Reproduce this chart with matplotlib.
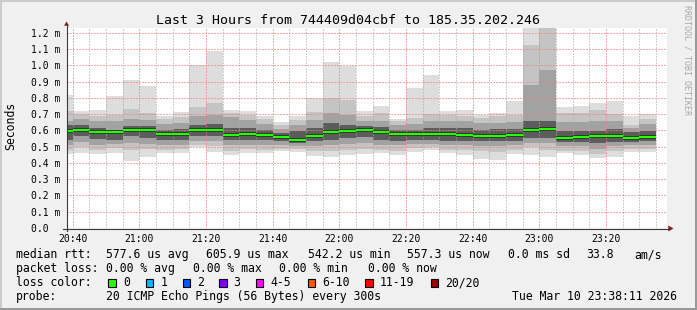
import matplotlib
matplotlib.use('Agg')
import matplotlib.pyplot as plt
import matplotlib.patches as mpatches
from matplotlib.lines import Line2D
from matplotlib.ticker import MultipleLocator, FuncFormatter
import numpy as np

plt.rcParams['font.family'] = 'DejaVu Sans Mono'

W, H = 697, 310

# 5 minute slots, labelled by their end time
slot_end = ['20:40', '20:45', '20:50', '20:55', '21:00', '21:05', '21:10', '21:15', '21:20',
            '21:25', '21:30', '21:35', '21:40', '21:45', '21:50', '21:55', '22:00', '22:05',
            '22:10', '22:15', '22:20', '22:25', '22:30', '22:35', '22:40', '22:45', '22:50',
            '22:55', '23:00', '23:05', '23:10', '23:15', '23:20', '23:25', '23:30', '23:35']

# rtt spread per slot in ms, outer bands -> inner bands
rtt_max = [0.819, 0.716, 0.727, 0.813, 0.911, 0.874, 0.690, 0.714, 0.999, 1.085, 0.727, 0.720,
           0.690, 0.653, 0.688, 0.796, 1.023, 0.993, 0.720, 0.751, 0.671, 0.862, 0.942, 0.720,
           0.727, 0.696, 0.708, 0.782, 1.330, 1.520, 0.743, 0.751, 0.770, 0.782, 0.690, 0.702]
rtt_hi1 = [0.720, 0.700, 0.686, 0.692, 0.733, 0.706, 0.671, 0.680, 0.741, 0.767, 0.706, 0.696,
           0.669, 0.635, 0.665, 0.712, 0.798, 0.788, 0.686, 0.706, 0.655, 0.676, 0.700, 0.692,
           0.686, 0.676, 0.686, 0.692, 1.126, 1.260, 0.706, 0.706, 0.727, 0.700, 0.635, 0.671]
rtt_hi2 = [0.659, 0.671, 0.655, 0.655, 0.671, 0.665, 0.641, 0.645, 0.686, 0.692, 0.680, 0.665,
           0.639, 0.610, 0.635, 0.665, 0.706, 0.696, 0.655, 0.659, 0.635, 0.641, 0.655, 0.655,
           0.655, 0.645, 0.645, 0.651, 0.880, 0.972, 0.651, 0.651, 0.655, 0.655, 0.614, 0.639]
rtt_hi3 = [0.630, 0.635, 0.614, 0.604, 0.624, 0.624, 0.604, 0.610, 0.635, 0.639, 0.614, 0.614,
           0.604, 0.583, 0.593, 0.614, 0.645, 0.635, 0.624, 0.618, 0.604, 0.604, 0.614, 0.614,
           0.614, 0.604, 0.610, 0.610, 0.655, 0.660, 0.597, 0.597, 0.597, 0.610, 0.589, 0.598]
rtt_median = [0.598, 0.604, 0.587, 0.587, 0.600, 0.600, 0.579, 0.577, 0.602, 0.602, 0.573, 0.577,
              0.571, 0.559, 0.542, 0.567, 0.587, 0.598, 0.600, 0.590, 0.579, 0.575, 0.577, 0.577,
              0.569, 0.565, 0.565, 0.573, 0.604, 0.606, 0.553, 0.561, 0.563, 0.563, 0.553, 0.557]
rtt_lo3 = [0.540, 0.563, 0.548, 0.542, 0.563, 0.553, 0.542, 0.542, 0.567, 0.567, 0.542, 0.542,
           0.542, 0.532, 0.522, 0.536, 0.542, 0.553, 0.557, 0.542, 0.536, 0.542, 0.542, 0.536,
           0.532, 0.532, 0.532, 0.536, 0.553, 0.553, 0.528, 0.528, 0.522, 0.528, 0.528, 0.532]
rtt_lo2 = [0.510, 0.528, 0.512, 0.518, 0.522, 0.516, 0.507, 0.512, 0.532, 0.532, 0.507, 0.512,
           0.512, 0.507, 0.501, 0.501, 0.507, 0.516, 0.522, 0.512, 0.507, 0.516, 0.516, 0.507,
           0.507, 0.501, 0.501, 0.512, 0.522, 0.522, 0.501, 0.501, 0.487, 0.501, 0.507, 0.507]
rtt_lo1 = [0.481, 0.495, 0.481, 0.491, 0.481, 0.487, 0.481, 0.487, 0.507, 0.501, 0.475, 0.487,
           0.481, 0.487, 0.487, 0.471, 0.471, 0.481, 0.487, 0.481, 0.475, 0.491, 0.495, 0.481,
           0.481, 0.471, 0.467, 0.481, 0.495, 0.481, 0.475, 0.471, 0.454, 0.471, 0.487, 0.487]
rtt_min = [0.455, 0.462, 0.452, 0.462, 0.409, 0.434, 0.458, 0.458, 0.495, 0.469, 0.446, 0.462,
           0.458, 0.475, 0.465, 0.442, 0.434, 0.446, 0.455, 0.458, 0.446, 0.469, 0.481, 0.458,
           0.450, 0.426, 0.415, 0.452, 0.450, 0.436, 0.458, 0.450, 0.430, 0.436, 0.465, 0.467]

smoke_colors = ['#dddddd', '#c4c4c4', '#a2a2a2', '#5c5c5c']

loss_labels = ['0', '1', '2', '3', '4-5', '6-10', '11-19', '20/20']
loss_colors = ['#26ff00', '#00b8ff', '#0059ff', '#7e00ff', '#ff00ff', '#ff5500', '#ff0000', '#a10000']
loss_box_x = [108.3, 145.7, 182.7, 219.0, 255.7, 307.7, 365.0, 430.7]


def fx(px):
    return px / W


def fy(py):
    return 1 - py / H


fig = plt.figure(figsize=(W / 100, H / 100), dpi=100)
fig.patch.set_facecolor('#f0f0f0')

# frame shading
fig.add_artist(mpatches.Rectangle((0, fy(2)), 1, 2 / H, transform=fig.transFigure, color='#cbcbcb', lw=0))
fig.add_artist(mpatches.Rectangle((0, 0), 2 / W, 1, transform=fig.transFigure, color='#cbcbcb', lw=0))
fig.add_artist(mpatches.Rectangle((0, 0), 1, 2 / H, transform=fig.transFigure, color='#999999', lw=0))
fig.add_artist(mpatches.Rectangle((1 - 2 / W, 0), 2 / W, 1, transform=fig.transFigure, color='#999999', lw=0))

ax = fig.add_axes([fx(67), fy(228), 600 / W, 200 / H])
ax.set_facecolor('white')
for s in ax.spines.values():
    s.set_visible(False)

t_end = np.array([int(s[:2]) * 60 + int(s[3:]) for s in slot_end])
bands = [(rtt_min, rtt_max), (rtt_lo1, rtt_hi1), (rtt_lo2, rtt_hi2), (rtt_lo3, rtt_hi3)]
for (lo, hi), c in zip(bands, smoke_colors):
    lo = np.array(lo)
    hi = np.array(hi)
    ax.bar(t_end - 5, hi - lo, width=5, bottom=lo, align='edge', color=c,
           linewidth=0, antialiased=False, zorder=1)
# thin dark rule under the median, then the loss-coloured median
ax.hlines(rtt_median, t_end - 5, t_end, colors='#202020', linewidth=2.6, zorder=3)
ax.hlines(rtt_median, t_end - 5, t_end, colors='#26ff00', linewidth=1.6, zorder=4)

ax.set_xlim(1238 + 1 / 3, 1418 + 1 / 3)
ax.set_ylim(0, 1.229)

# majors every 20 min, minors on the remaining 5 min marks
ax.set_xticks([m for m in range(1240, 1420, 20)])
ax.set_xticks([m for m in range(1240, 1420, 5) if m % 20], minor=True)
ax.yaxis.set_major_locator(MultipleLocator(0.1))
ax.xaxis.set_major_formatter(FuncFormatter(lambda v, p: '%02d:%02d' % (round(v) // 60, round(v) % 60)))
ax.yaxis.set_major_formatter(FuncFormatter(lambda v, p: '0.0  ' if abs(v) < 1e-9 else '%.1f m' % v))
ax.set_axisbelow(False)
ax.grid(which='major', color='#f08080', alpha=0.65, linestyle=(0, (0.75, 1.25)), linewidth=1.0,
        antialiased=False)
ax.grid(which='minor', axis='x', color='#a8a8a8', alpha=0.55, linestyle=(0, (0.75, 1.25)), linewidth=1.0,
        antialiased=False)
ax.tick_params(which='both', length=0)
ax.tick_params(axis='x', pad=4, labelsize=7)
ax.tick_params(axis='y', pad=5, labelsize=7)

# axes with arrows
axis_col = '#3a3a3a'
arrow_col = '#7f1f1f'
fig.add_artist(Line2D([fx(66.5), fx(66.5)], [fy(231), fy(25)], transform=fig.transFigure,
                      color=axis_col, lw=0.8))
fig.add_artist(Line2D([fx(63), fx(669)], [fy(228.5), fy(228.5)], transform=fig.transFigure,
                      color=axis_col, lw=0.8))
fig.add_artist(mpatches.Polygon([(fx(64), fy(25.7)), (fx(69), fy(25.7)), (fx(66.5), fy(21.5))],
                                closed=True, transform=fig.transFigure, color=arrow_col, lw=0))
fig.add_artist(mpatches.Polygon([(fx(668.3), fy(225.5)), (fx(668.3), fy(231.5)), (fx(673.5), fy(228.5))],
                                closed=True, transform=fig.transFigure, color=arrow_col, lw=0))

fig.text(fx(348.5), fy(24), 'Last 3 Hours from 744409d04cbf to 185.35.202.246',
         ha='center', va='baseline', fontsize=9.5)
fig.text(fx(10.5), fy(126), 'Seconds', rotation=90, ha='center', va='center', fontsize=8.3)
fig.text(fx(687), fy(60), 'RRDTOOL / TOBI OETIKER', rotation=270, ha='center', va='center',
         fontsize=6, color='#a8a8a8')

legend_rows = [
    (258, [(16, 'median rtt:'), (107, '577.6 us avg'), (207, '605.9 us max'), (308, '542.2 us min'),
           (408, '557.3 us now'), (508, '0.0 ms sd'), (587, '33.8'), (635, 'am/s')]),
    (272, [(16, 'packet loss:'), (107, '0.00 % avg'), (193.4, '0.00 % max'), (279.8, '0.00 % min'),
           (368, '0.00 % now')]),
    (286, [(16, 'loss color:')]),
    (300, [(16, 'probe:'), (107, '20 ICMP Echo Pings (56 Bytes) every 300s'),
           (513, 'Tue Mar 10 23:38:11 2026')]),
]
for base, items in legend_rows:
    for x, s in items:
        fig.text(fx(x - 0.5), fy(base), s, ha='left', va='baseline', fontsize=8.3)

for bx, lab, col in zip(loss_box_x, loss_labels, loss_colors):
    fig.add_artist(mpatches.Rectangle((fx(bx), fy(286.5)), 7.5 / W, 7.5 / H, transform=fig.transFigure,
                                      facecolor=col, edgecolor='black', lw=0.8))
    fig.text(fx(bx + 14.5), fy(286), lab, ha='left', va='baseline', fontsize=8.3)

fig.savefig('out.png', dpi=100, facecolor=fig.get_facecolor())
